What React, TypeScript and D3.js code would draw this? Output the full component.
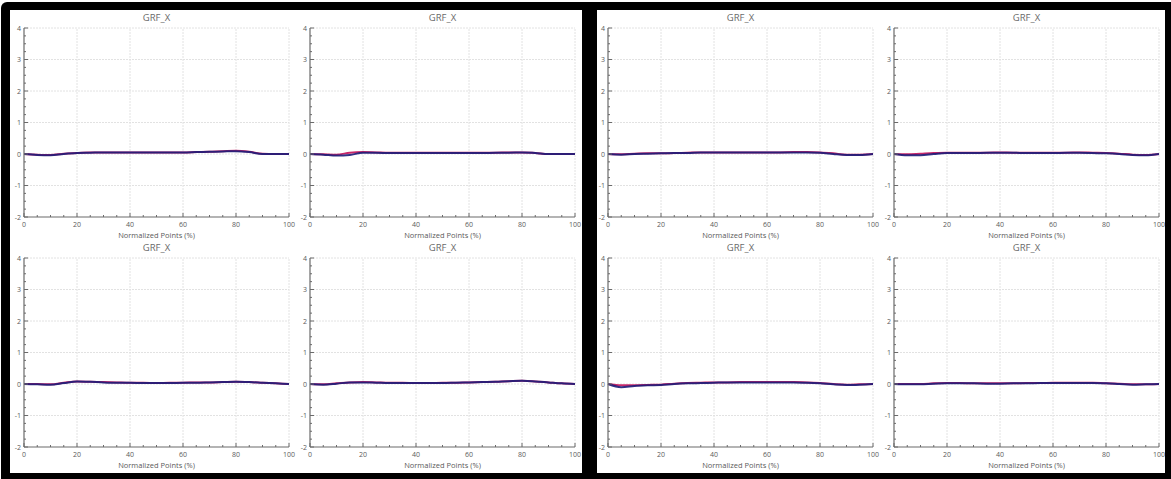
import React from "react";
import * as d3 from "d3";

const xPoints = [0, 5, 10, 15, 20, 25, 30, 35, 40, 45, 50, 55, 60, 65, 70, 75, 80, 85, 90, 95, 100];
const xTicks = [0, 20, 40, 60, 80, 100];
const yTicks = [-2, -1, 0, 1, 2, 3, 4];
const titleText = "GRF_X";
const xLabelText = "Normalized Points (%)";

// top-left panel, left plot
const blueA = [0, -0.03, -0.04, 0.0, 0.03, 0.04, 0.05, 0.05, 0.05, 0.05, 0.05, 0.05, 0.05, 0.06, 0.07, 0.08, 0.09, 0.06, 0.0, 0.0, 0.0];
const redA = [0, -0.02, -0.03, 0.01, 0.03, 0.05, 0.05, 0.05, 0.05, 0.05, 0.05, 0.05, 0.05, 0.06, 0.07, 0.09, 0.1, 0.07, 0.01, 0.0, 0.0];
// top-left panel, right plot
const blueB = [0, -0.02, -0.05, -0.03, 0.04, 0.04, 0.03, 0.03, 0.03, 0.03, 0.03, 0.03, 0.03, 0.03, 0.04, 0.04, 0.05, 0.03, 0.0, 0.0, 0.0];
const redB = [0, -0.01, -0.02, 0.04, 0.06, 0.05, 0.04, 0.04, 0.04, 0.04, 0.04, 0.04, 0.04, 0.04, 0.04, 0.05, 0.05, 0.03, 0.0, 0.0, 0.0];
// top-right panel, left plot
const blueC = [0, -0.02, 0.0, 0.01, 0.02, 0.03, 0.03, 0.05, 0.05, 0.05, 0.05, 0.05, 0.05, 0.05, 0.05, 0.05, 0.04, 0.0, -0.03, -0.03, 0.0];
const redC = [0, -0.01, 0.01, 0.02, 0.02, 0.03, 0.04, 0.05, 0.05, 0.05, 0.05, 0.05, 0.05, 0.05, 0.06, 0.06, 0.05, 0.02, -0.02, -0.02, 0.0];
// top-right panel, right plot
const blueD = [0, -0.04, -0.04, 0.0, 0.03, 0.03, 0.03, 0.04, 0.04, 0.04, 0.03, 0.03, 0.03, 0.04, 0.04, 0.03, 0.02, 0.0, -0.03, -0.04, 0.0];
const redD = [0, -0.01, 0.01, 0.03, 0.04, 0.04, 0.04, 0.04, 0.05, 0.04, 0.04, 0.04, 0.04, 0.04, 0.05, 0.04, 0.03, 0.01, -0.02, -0.03, 0.0];
// bottom-left panel, left plot
const blueE = [0, -0.01, -0.02, 0.03, 0.08, 0.07, 0.05, 0.04, 0.04, 0.03, 0.03, 0.03, 0.04, 0.04, 0.05, 0.06, 0.07, 0.06, 0.04, 0.02, 0.0];
const redE = [0, 0.0, -0.01, 0.04, 0.08, 0.07, 0.06, 0.05, 0.04, 0.04, 0.03, 0.04, 0.04, 0.05, 0.05, 0.06, 0.07, 0.06, 0.04, 0.02, 0.0];
// bottom-left panel, right plot
const blueF = [0, -0.02, 0.01, 0.05, 0.05, 0.04, 0.03, 0.03, 0.03, 0.03, 0.03, 0.04, 0.05, 0.06, 0.07, 0.09, 0.1, 0.08, 0.05, 0.02, 0.0];
const redF = [0, -0.01, 0.02, 0.05, 0.06, 0.05, 0.04, 0.04, 0.03, 0.03, 0.04, 0.04, 0.05, 0.06, 0.07, 0.09, 0.1, 0.08, 0.05, 0.02, 0.0];
// bottom-right panel, left plot
const blueG = [0, -0.1, -0.06, -0.04, -0.03, 0.0, 0.02, 0.03, 0.04, 0.05, 0.05, 0.05, 0.05, 0.05, 0.05, 0.04, 0.02, -0.01, -0.03, -0.02, 0.0];
const redG = [0, -0.04, -0.04, -0.03, -0.02, 0.01, 0.03, 0.04, 0.05, 0.05, 0.06, 0.06, 0.06, 0.06, 0.06, 0.05, 0.03, 0.0, -0.02, -0.01, 0.0];
// bottom-right panel, right plot
const blueH = [0, -0.01, -0.01, 0.01, 0.02, 0.02, 0.02, 0.01, 0.01, 0.02, 0.02, 0.03, 0.03, 0.03, 0.03, 0.03, 0.02, 0.0, -0.02, -0.01, 0.0];
const redH = [0, 0.0, 0.0, 0.02, 0.03, 0.03, 0.02, 0.02, 0.02, 0.02, 0.03, 0.03, 0.04, 0.04, 0.04, 0.04, 0.02, 0.01, -0.01, -0.01, 0.0];

const plotLefts = [24, 310, 608, 894];
const plotTops = [28, 258];
const plotW = 265;
const plotH = 189;

const seriesGrid = [
  [[blueA, redA], [blueB, redB], [blueC, redC], [blueD, redD]],
  [[blueE, redE], [blueF, redF], [blueG, redG], [blueH, redH]],
];

const FONT = "'Open Sans', 'DejaVu Sans', sans-serif";

function SubPlot({ left, top, blue, red }: { left: number; top: number; blue: number[]; red: number[] }) {
  const x = d3.scaleLinear().domain([0, 100]).range([left, left + plotW]);
  const y = d3.scaleLinear().domain([-2, 4]).range([top + plotH, top]);
  const line = d3
    .line<number>()
    .x((_, i) => x(xPoints[i]))
    .y((d) => y(d))
    .curve(d3.curveMonotoneX);
  const xMinor = d3.range(0, 101, 5).filter((v) => v % 20 !== 0);
  const yMinor = d3.range(-2, 4.001, 0.25).filter((v) => Math.abs(v - Math.round(v)) > 1e-6);
  const axisColor = "#6a6a6a";
  const textColor = "#5a5a5a";
  return (
    <g>
      {xTicks.filter((t) => t > 0).map((t) => (
        <line key={"gx" + t} x1={x(t)} x2={x(t)} y1={y(-2)} y2={y(4)} stroke="#e2e2e2" strokeWidth={1} strokeDasharray="2,1" />
      ))}
      {yTicks.filter((t) => t > -2).map((t) => (
        <line key={"gy" + t} x1={x(0)} x2={x(100)} y1={y(t)} y2={y(t)} stroke="#e2e2e2" strokeWidth={1} strokeDasharray="2,1" />
      ))}
      <text x={x(50)} y={top - 7} textAnchor="middle" fontFamily={FONT} fontSize={9.5} fill="#6a6a6a">{titleText}</text>
      <path d={line(red) || ""} fill="none" stroke="#c8286a" strokeWidth={2} />
      <path d={line(blue) || ""} fill="none" stroke="#1c1c78" strokeWidth={2} strokeOpacity={0.9} />
      <line x1={x(0)} x2={x(0)} y1={y(-2)} y2={y(4)} stroke={axisColor} strokeWidth={1.2} />
      <line x1={x(0)} x2={x(100)} y1={y(-2)} y2={y(-2)} stroke={axisColor} strokeWidth={1.2} />
      {xTicks.map((t) => (
        <g key={"xt" + t}>
          <line x1={x(t)} x2={x(t)} y1={y(-2)} y2={y(-2) - 4} stroke={axisColor} strokeWidth={1} />
          <text x={x(t)} y={y(-2) + 10} textAnchor="middle" fontFamily={FONT} fontSize={7} fill={textColor}>{t}</text>
        </g>
      ))}
      {xMinor.map((t) => (
        <line key={"xm" + t} x1={x(t)} x2={x(t)} y1={y(-2)} y2={y(-2) - 2} stroke={axisColor} strokeWidth={1} />
      ))}
      {yTicks.map((t) => (
        <g key={"yt" + t}>
          <line x1={x(0)} x2={x(0) + 4} y1={y(t)} y2={y(t)} stroke={axisColor} strokeWidth={1} />
          <text x={x(0) - 3} y={y(t) + 2.5} textAnchor="end" fontFamily={FONT} fontSize={7} fill={textColor}>{t}</text>
        </g>
      ))}
      {yMinor.map((t) => (
        <line key={"ym" + t} x1={x(0)} x2={x(0) + 2} y1={y(t)} y2={y(t)} stroke={axisColor} strokeWidth={1} />
      ))}
      <text x={x(50)} y={y(-2) + 21} textAnchor="middle" fontFamily={FONT} fontSize={7.5} fill={textColor}>{xLabelText}</text>
    </g>
  );
}

export default function App() {
  return (
    <svg width={1171} height={479} style={{ position: "absolute", left: 0, top: 0, background: "#fff" }}>
      <rect x={1} y={2} width={1176} height={485} rx={6} fill="#000" />
      <rect x={10} y={10} width={572} height={463} fill="#fff" />
      <rect x={597} y={10} width={568} height={463} fill="#fff" />
      {plotTops.map((top, r) =>
        plotLefts.map((left, c) => (
          <SubPlot key={r + "-" + c} left={left} top={top} blue={seriesGrid[r][c][0]} red={seriesGrid[r][c][1]} />
        ))
      )}
    </svg>
  );
}
